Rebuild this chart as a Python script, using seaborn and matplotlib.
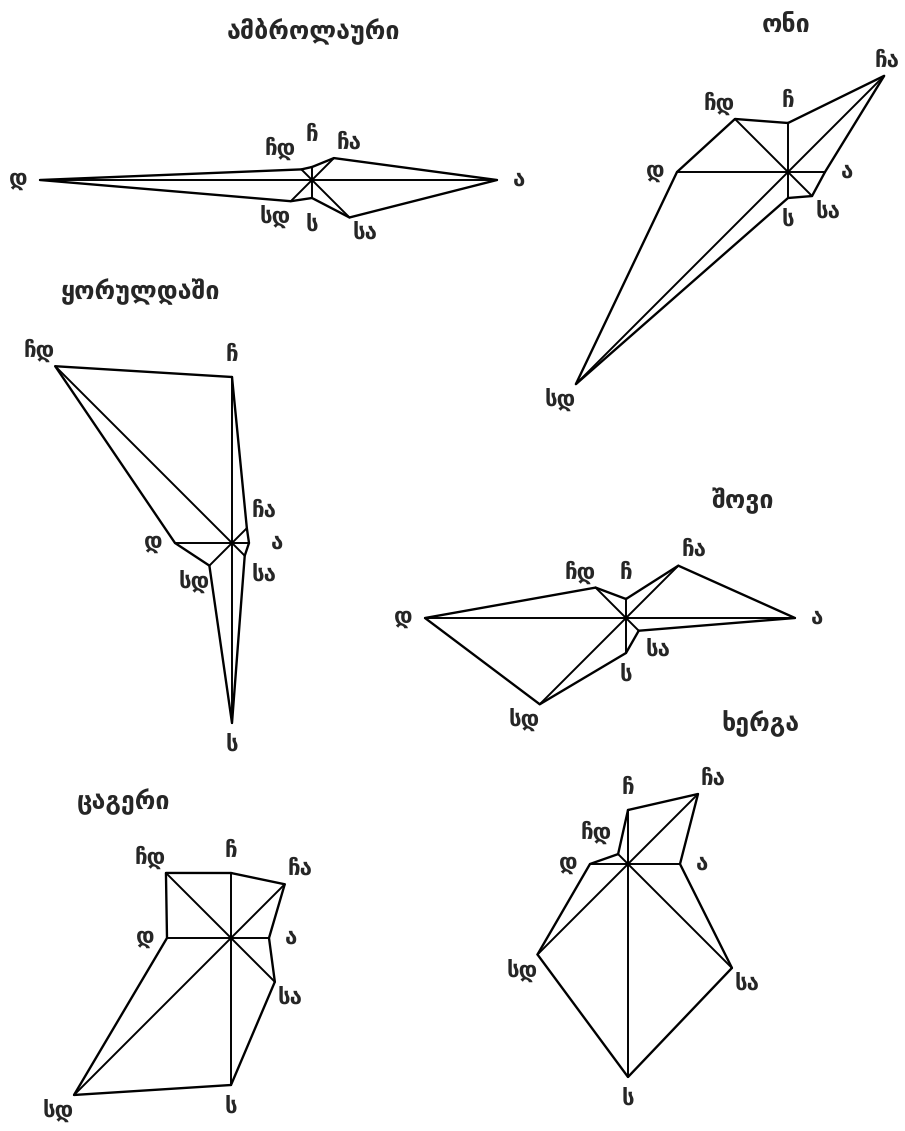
import numpy as np
import pandas as pd
import matplotlib
matplotlib.use("Agg")
import matplotlib.pyplot as plt
import seaborn as sns

# ---- data -------------------------------------------------------------
directions = ["ჩ", "ჩა", "ა", "სა", "ს", "სდ", "დ", "ჩდ"]
direction_deg = [0, 45, 90, 135, 180, 225, 270, 315]

stations = ["ამბროლაური", "ონი", "ყორულდაში", "შოვი", "ცაგერი", "ხერგა"]

ambrolauri = [13, 31, 185, 53, 18, 30, 272, 15]
oni = [49, 136, 37, 34, 26, 300, 111, 75]
korulдashi = [166, 21, 17, 18, 180, 32, 57, 250]
shovi = [19, 74, 169, 18, 35, 122, 201, 43]
tsageri = [65, 76, 38, 62, 147, 222, 64, 92]
kherga = [54, 99, 52, 147, 213, 128, 38, 14]

values = [ambrolauri, oni, korulдashi, shovi, tsageri, kherga]

# ---- layout (pixels) -------------------------------------------------
W, H = 905, 1131
centers = [(312, 180), (788, 172), (232, 543), (626, 618), (231, 938), (628, 864)]
title_pos = [(313, 31), (786, 25), (140, 292), (743, 501), (124, 802), (760, 724)]
R = 330          # radius of every polar box in pixels (1 data unit = 1 px)
PAD = 22
RMIN_LABEL = 45

sns.set_style("white")
plt.rcParams["font.family"] = ["DejaVu Sans"]
plt.rcParams["font.weight"] = "bold"

fig = plt.figure(figsize=(W / 100, H / 100), dpi=100)
fig.patch.set_facecolor("white")

theta = np.deg2rad(direction_deg)

for name, vals, (cx, cy), (tx, ty) in zip(stations, values, centers, title_pos):
    ax = fig.add_axes([(cx - R) / W, (H - cy - R) / H, 2 * R / W, 2 * R / H],
                      projection="polar")
    ax.set_theta_zero_location("N")
    ax.set_theta_direction(-1)
    ax.set_ylim(0, R)
    ax.set_axis_off()

    # outline polygon
    poly = pd.DataFrame({"theta": list(theta) + [theta[0]],
                         "r": list(vals) + [vals[0]]})
    sns.lineplot(data=poly, x="theta", y="r", sort=False, estimator=None,
                 color="black", linewidth=1.7, ax=ax, legend=False)

    # spokes from the centre
    rows = []
    for i, (t, v) in enumerate(zip(theta, vals)):
        rows.append({"theta": t, "r": 0, "spoke": i})
        rows.append({"theta": t, "r": v, "spoke": i})
    spokes = pd.DataFrame(rows)
    sns.lineplot(data=spokes, x="theta", y="r", units="spoke", sort=False,
                 estimator=None, color="black", linewidth=1.4, ax=ax, legend=False)

    # direction labels (kept inside the page)
    for t, v, lab in zip(theta, vals, directions):
        rl = max(v + PAD, RMIN_LABEL)
        xd, yd = ax.transData.transform((t, rl))
        xd = min(max(xd, 16), W - 18)
        fig.text(xd / W, yd / H, lab, ha="center", va="center", fontsize=16,
                 fontweight="bold")

    fig.text(tx / W, 1 - ty / H, name, ha="center", va="center",
             fontsize=18, fontweight="bold")

fig.savefig("out.png", dpi=100, facecolor="white")
